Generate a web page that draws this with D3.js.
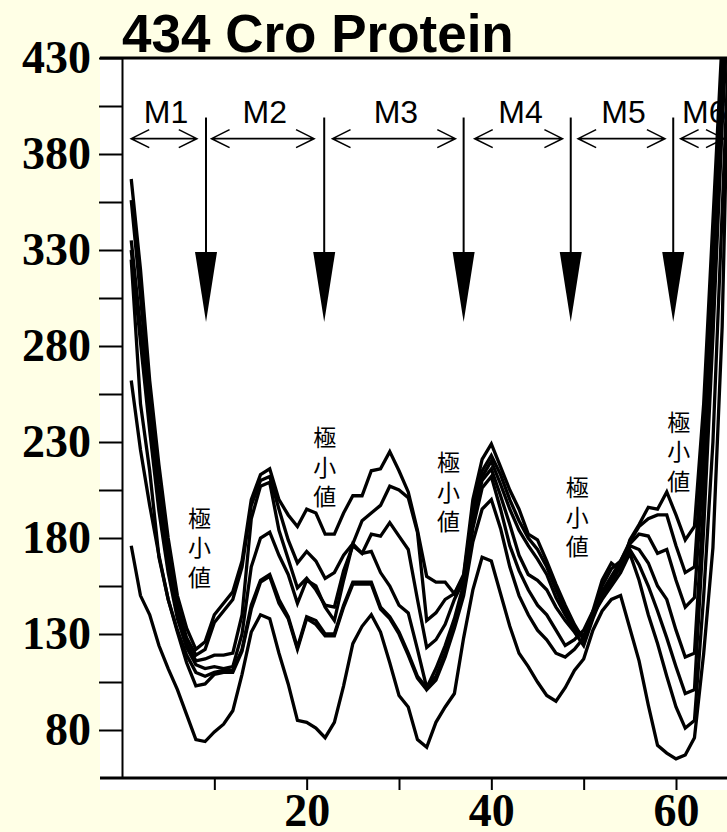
<!DOCTYPE html>
<html>
<head>
<meta charset="utf-8">
<script src="https://cdn.jsdelivr.net/npm/d3@7"></script>
<style>
    body { margin: 0; background: #ffffe6; }
    svg { display: block; }
</style>
</head>
<body>
<svg id="chart"></svg>
<script>
// residue numbers along the chain
const residues = d3.range(1, 67);

// seven profiles, top to bottom
const seriesA = [367,320,262,218,180,150,133,122,126,140,146,152,168,200,213,216,200,192,186,195,193,182,182,193,202,202,215,216,225,215,204,184,160,157,157,151,161,200,221,229,217,205,195,182,179,168,156,145,135,127,142,158,167,163,179,187,196,195,204,192,179,186,250,345,440,540];
const seriesB = [356,306,252,208,172,145,128,119,122,136,142,148,165,197,210,212,195,179,167,173,168,159,162,171,177,189,193,197,207,205,201,183,137,141,148,151,160,195,215,223,213,200,189,180,174,165,153,142,133,129,140,155,164,168,178,186,190,192,192,176,162,165,235,330,425,520];
const seriesC = [335,290,242,200,166,141,125,116,117,119,119,120,140,190,207,209,184,169,154,159,153,145,144,163,176,172,182,181,188,181,174,148,123,127,135,148,158,192,212,220,208,195,184,176,169,161,149,140,132,128,140,152,160,168,177,182,181,172,174,158,144,149,220,315,415,510];
const seriesD = [330,282,236,194,162,138,123,114,112,113,112,113,130,165,180,183,171,161,146,158,155,144,137,158,177,172,173,162,155,145,141,122,102,112,124,138,156,190,210,216,202,187,171,161,158,153,144,137,131,124,138,150,158,166,176,174,167,155,148,132,118,120,200,300,405,500];
const seriesE = [325,250,215,170,148,132,119,110,108,110,111,111,122,145,158,161,148,139,123,139,137,130,130,145,157,157,157,144,139,131,120,108,102,108,120,135,152,185,206,212,195,176,163,153,145,140,132,124,127,132,142,150,157,165,174,166,155,142,128,113,99,101,185,285,395,490];
const seriesF = [262,226,197,171,148,131,115,103,104,109,110,110,121,143,157,160,146,138,122,138,135,129,129,144,156,156,156,143,138,130,119,107,101,106,118,133,150,178,195,200,185,165,150,140,132,127,120,118,122,128,140,148,155,162,172,158,140,125,108,92,81,85,150,230,350,470];
const seriesG = [176,150,140,124,112,101,88,75,74,79,83,90,109,131,140,138,120,104,85,84,81,76,84,103,125,134,140,131,115,98,92,75,71,84,92,99,128,153,170,168,151,134,120,113,105,98,95,102,111,117,132,142,148,150,133,116,93,72,68,65,67,76,120,175,290,500];

const allSeries = [seriesA, seriesB, seriesC, seriesD, seriesE, seriesF, seriesG];

// axes
const yTickValues = d3.range(80, 431, 25);
const yLabelValues = [80, 130, 180, 230, 280, 330, 380, 430];
const xTickValues = [10, 20, 30, 40, 50, 60];
const xLabelValues = [20, 40, 60];

// annotations, in residue / value units
const motifNames = ["M1", "M2", "M3", "M4", "M5", "M6"];
const motifSpans = [[1.0, 8.1], [9.7, 20.8], [22.8, 36.1], [38.2, 47.7], [49.4, 58.8], [60.5, 65.2]];
const boundaryResidues = [9.1, 21.9, 37.0, 48.6, 59.7];
const minimumLabelSpots = [[8.4, 190], [21.95, 232], [35.35, 219], [49.3, 206], [60.3, 240]];
const minimumLabelText = "極小値";

class ProfileChart {
    width = 727;
    height = 832;
    plot = { left: 100, top: 58, right: 727, bottom: 778, frameBottom: 790 };

    constructor(svg){
        this.svg = d3.select(svg)
            .attr("width", this.width)
            .attr("height", this.height);
        this.x = d3.scaleLinear().domain([0, 60]).range([122, 676]);
        this.y = d3.scaleLinear().domain([55, 430]).range([778, 58]);
    }

    render(){
        const p = this.plot;

        this.svg.append("rect")
            .attr("x", p.left).attr("y", p.top)
            .attr("width", p.right - p.left)
            .attr("height", p.frameBottom - p.top)
            .attr("fill", "white");

        this.svg.append("clipPath").attr("id", "plot-clip")
            .append("rect")
            .attr("x", p.left).attr("y", p.top)
            .attr("width", p.right - p.left)
            .attr("height", p.bottom - p.top);

        const line = d3.line()
            .x((d, i) => this.x(residues[i]))
            .y(d => this.y(d));

        this.svg.append("g")
            .attr("clip-path", "url(#plot-clip)")
            .selectAll("path")
            .data(allSeries)
            .join("path")
            .attr("d", line)
            .attr("fill", "none")
            .attr("stroke", "black")
            .attr("stroke-width", 3.3);

        this.drawAxes();
        this.drawAnnotations();
    }

    drawAxes(){
        const p = this.plot;
        const serif = "'Liberation Serif', 'Times New Roman', serif";

        const yAxis = d3.axisLeft(this.y)
            .tickValues(yTickValues)
            .tickSize(23)
            .tickSizeOuter(0)
            .tickPadding(8)
            .tickFormat(d => yLabelValues.includes(d) ? d : "");
        const gy = this.svg.append("g")
            .attr("transform", `translate(${this.x(0)},0)`)
            .call(yAxis);
        gy.selectAll("line").attr("stroke-width", 2);
        gy.select(".domain").attr("stroke-width", 2);
        gy.selectAll("text")
            .attr("font-family", serif)
            .attr("font-size", 46)
            .attr("font-weight", "bold")
            .attr("fill", "black");

        const xAxis = d3.axisBottom(this.x)
            .tickValues(xTickValues)
            .tickSize(12)
            .tickSizeOuter(0)
            .tickPadding(3)
            .tickFormat(d => xLabelValues.includes(d) ? d : "");
        const gx = this.svg.append("g")
            .attr("transform", `translate(0,${p.bottom})`)
            .call(xAxis);
        gx.select(".domain").remove();
        gx.selectAll("line").attr("stroke-width", 2);
        gx.selectAll("text")
            .attr("font-family", serif)
            .attr("font-size", 46)
            .attr("font-weight", "bold")
            .attr("fill", "black");

        // frame lines: top border and bottom axis run the full width
        this.svg.append("line")
            .attr("x1", p.left).attr("x2", p.right)
            .attr("y1", p.top).attr("y2", p.top)
            .attr("stroke", "black").attr("stroke-width", 3);
        this.svg.append("line")
            .attr("x1", p.left).attr("x2", p.right)
            .attr("y1", p.bottom).attr("y2", p.bottom)
            .attr("stroke", "black").attr("stroke-width", 3);

        this.svg.append("text")
            .attr("x", 122).attr("y", 52)
            .attr("font-family", "'Liberation Sans', Arial, sans-serif")
            .attr("font-size", 53)
            .attr("font-weight", "bold")
            .text("434 Cro Protein");
    }

    drawAnnotations(){
        const g = this.svg.append("g");
        const rowY = this.y(388);
        const head = 18, spread = 9;

        // double-headed span arrows with motif names
        motifSpans.forEach(([a, b], i) => {
            const xa = this.x(a), xb = this.x(b);
            g.append("path")
                .attr("d", `M${xa},${rowY}L${xb},${rowY}` +
                    `M${xa + head},${rowY - spread}L${xa},${rowY}L${xa + head},${rowY + spread}` +
                    `M${xb - head},${rowY - spread}L${xb},${rowY}L${xb - head},${rowY + spread}`)
                .attr("fill", "none")
                .attr("stroke", "black")
                .attr("stroke-width", 1.6);
            g.append("text")
                .attr("x", (xa + xb) / 2 + 2)
                .attr("y", this.y(396))
                .attr("text-anchor", "middle")
                .attr("font-family", "'Liberation Sans', Arial, sans-serif")
                .attr("font-size", 32)
                .text(motifNames[i]);
        });

        // boundary arrows pointing down
        const top = this.y(399), headTop = this.y(329), tip = this.y(292.5);
        boundaryResidues.forEach(r => {
            const xv = this.x(r);
            g.append("line")
                .attr("x1", xv).attr("x2", xv)
                .attr("y1", top).attr("y2", headTop + 2)
                .attr("stroke", "black").attr("stroke-width", 2);
            g.append("path")
                .attr("d", `M${xv - 11},${headTop}L${xv + 11},${headTop}L${xv},${tip}Z`)
                .attr("fill", "black");
        });

        // vertical "極小値" labels, one text per label stacked with tspans
        minimumLabelSpots.forEach(([r, v]) => {
            const t = g.append("text")
                .attr("text-anchor", "middle")
                .attr("font-family", "'Noto Sans CJK JP', sans-serif")
                .attr("font-size", 23);
            [...minimumLabelText].forEach((ch, i) => {
                t.append("tspan")
                    .attr("x", this.x(r))
                    .attr("y", this.y(v) + i * 29.5 + 8)
                    .text(ch);
            });
        });
    }
}

const chart = new ProfileChart("#chart");
chart.render();
</script>
</body>
</html>
